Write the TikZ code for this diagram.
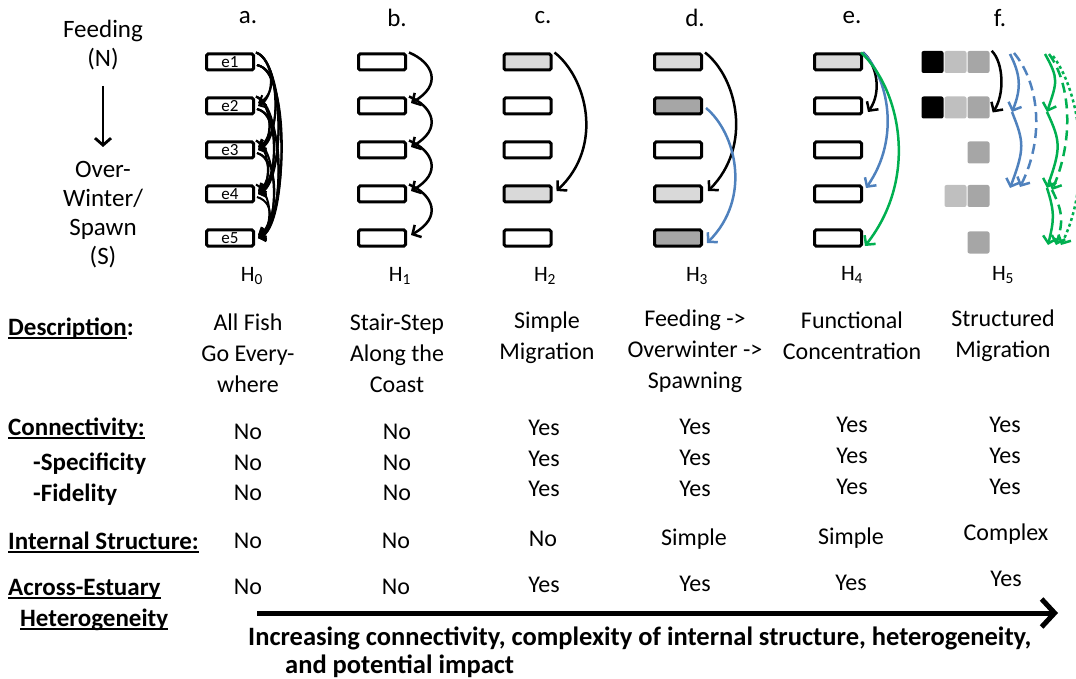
\documentclass[tikz,border=0pt]{standalone}
\usepackage{fontspec}
\setmainfont{Carlito}
\usetikzlibrary{arrows.meta}
\definecolor{ablue}{HTML}{4F81BD}
\definecolor{agreen}{HTML}{00B050}
\definecolor{lgray}{HTML}{D9D9D9}
\definecolor{dgray}{HTML}{A6A6A6}
\definecolor{sqlight}{HTML}{BFBFBF}
\definecolor{sqmid}{HTML}{A6A6A6}
\newcommand\myul[1]{\setbox0\hbox{#1}\rlap{\rule[-3.6pt]{\wd0}{1.8pt}}\box0}
\begin{document}
\begin{tikzpicture}[x=1pt,y=-1pt,
  estbox/.style={draw, line width=3pt, rounded corners=1.5pt, minimum width=47pt, minimum height=16pt, inner sep=0pt, fill=white},
  sq/.style={minimum size=22pt, inner sep=0pt, rounded corners=2pt, draw=none},
  arr/.style={line width=2.5pt, -{Straight Barb[length=6.5pt,width=14pt]}},
  tang/.style={line width=2pt, -{Straight Barb[length=5.5pt,width=11pt]}},
  lbl/.style={font=\fontsize{25}{30}\selectfont\bfseries, anchor=west, inner sep=0pt, text height=16pt, text depth=0pt},
  val/.style={font=\fontsize{24}{29}\selectfont, inner sep=0pt, text height=15.5pt, text depth=0pt},
  desc/.style={font=\fontsize{24}{31}\selectfont, align=center, inner sep=0pt},
  big/.style={font=\fontsize{25}{29}\selectfont, align=center, inner sep=0pt},
  hl/.style={font=\fontsize{22}{26}\selectfont, inner sep=0pt},
  btm/.style={font=\fontsize{26.5}{31}\selectfont\bfseries, anchor=west, inner sep=0pt, text height=17pt, text depth=0pt}
]
\useasboundingbox (0,0) rectangle (1076,679);

% left legend
\node[big] (feed) at (103,45) {Feeding\\(N)};
\node[big] (spawn) at (103,215) {Over-\\Winter/\\Spawn\\(S)};
\coordinate (la1) at (103,86);
\coordinate (la2) at (103,147);
\draw[line width=2.8pt, -{Straight Barb[length=7pt,width=16pt]}] (la1) -- (la2);

% column letters
\node[big] (la) at (248,18) {a.};
\node[big] (lb) at (397,18) {b.};
\node[big] (lc) at (543,18) {c.};
\node[big] (ld) at (695,18) {d.};
\node[big] (le) at (852,18) {e.};
\node[big] (lf) at (1000,18) {f.};

% boxes
\foreach \i/\y in {1/62,2/106,3/150,4/194,5/238}{
  \node[estbox, font=\fontsize{17}{19}\selectfont] (a\i) at (230,\y) {e\i};
  \node[estbox] (b\i) at (382,\y) {};
}
\node[estbox, fill=lgray] (c1) at (527.5,62) {};
\node[estbox] (c2) at (527.5,106) {};
\node[estbox] (c3) at (527.5,150) {};
\node[estbox, fill=lgray] (c4) at (527.5,194) {};
\node[estbox] (c5) at (527.5,238) {};
\node[estbox, fill=lgray] (d1) at (678,62) {};
\node[estbox, fill=dgray] (d2) at (678,106) {};
\node[estbox] (d3) at (678,150) {};
\node[estbox, fill=lgray] (d4) at (678,194) {};
\node[estbox, fill=dgray] (d5) at (678,238) {};
\node[estbox, fill=lgray] (e1) at (838,62) {};
\node[estbox] (e2) at (838,106) {};
\node[estbox] (e3) at (838,150) {};
\node[estbox] (e4) at (838,194) {};
\node[estbox] (e5) at (838,238) {};

% column a tangle
\foreach \i/\j/\o in {1/2/18,1/3/24,1/4/28,1/5/32,2/3/16,2/4/22,2/5/28,3/4/14,3/5/22,4/5/16}{
  \draw[tang] ([xshift=1pt]a\i.north east) .. controls +(\o,8) and +(\o,-10) .. ([xshift=3pt]a\j.east);
  \draw[tang] ([shift={(2pt,-3pt)}]a\i.east) .. controls +(\o+4,6) and +(\o-4,-6) .. ([shift={(3pt,3pt)}]a\j.east);
}

% column b stair-step
\foreach \i/\j in {1/2,2/3,3/4,4/5}{
  \draw[arr] ([xshift=2pt]b\i.north east) .. controls +(24,10) and +(32,-18) .. ([shift={(4pt,3pt)}]b\j.east);
}

% column c
\draw[arr] ([xshift=2pt]c1.north east) .. controls +(32,25) and +(48,-45) .. ([shift={(4pt,3pt)}]c4.east);

% column d
\draw[arr] ([xshift=2pt]d1.north east) .. controls +(32,25) and +(45,-45) .. ([shift={(5pt,3pt)}]d4.east);
\draw[arr, ablue] ([shift={(3pt,-2pt)}]d2.east) .. controls +(30,25) and +(45,-45) .. ([shift={(4pt,-5pt)}]d5.east);

% column e
\draw[arr] (e1.north east) .. controls +(14,12) and +(14,-20) .. ([shift={(5pt,-6pt)}]e2.east);
\draw[arr, ablue] (e1.north east) .. controls +(25,25) and +(35,-50) .. ([shift={(3pt,6pt)}]e4.east);
\draw[arr, agreen] ([xshift=-2pt]e1.north east) .. controls +(38,35) and +(55,-70) .. ([shift={(2pt,-8pt)}]e5.east);

% column f squares
\node[sq, fill=black] (f11) at (932.5,62) {};
\node[sq, fill=sqlight] (f12) at (955.5,62) {};
\node[sq, fill=sqmid] (f13) at (978.5,62) {};
\node[sq, fill=black] (f21) at (932.5,107.5) {};
\node[sq, fill=sqlight] (f22) at (955.5,107.5) {};
\node[sq, fill=sqmid] (f23) at (978.5,107.5) {};
\node[sq, fill=sqmid] (f33) at (978.5,152.5) {};
\node[sq, fill=sqlight] (f42) at (955.5,196) {};
\node[sq, fill=sqmid] (f43) at (978.5,196) {};
\node[sq, fill=sqmid] (f53) at (978.5,242.5) {};

\coordinate (fb1) at (1010,54);
\coordinate (fb2) at (1012,112);
\coordinate (fb4) at (1010,188);
\coordinate (fbd1) at (1014,53);
\coordinate (fbd4) at (1020,187);
\coordinate (fg1) at (1045,54);
\coordinate (fg2) at (1047,112);
\coordinate (fg4) at (1047,188);
\coordinate (fg5) at (1048,245);
\coordinate (fgd1) at (1049,54);
\coordinate (fgd4) at (1052,190);
\coordinate (fgd5) at (1056,245);
\coordinate (fgt1) at (1053,56);
\coordinate (fgt5) at (1061,245);

\draw[arr] ([xshift=2pt]f13.north east) .. controls +(12,12) and +(12,-18) .. ([shift={(3pt,-5pt)}]f23.east);
\draw[arr, ablue] (fb1) .. controls +(10,20) and +(10,-25) .. (fb2);
\draw[arr, ablue] (fb2) .. controls +(12,30) and +(15,-40) .. (fb4);
\draw[arr, ablue, dash pattern=on 10pt off 6pt] (fbd1) .. controls +(25,30) and +(25,-50) .. (fbd4);
\draw[arr, agreen] (fg1) .. controls +(14,25) and +(10,-30) .. (fg2);
\draw[arr, agreen] (fg2) .. controls +(14,30) and +(14,-40) .. (fg4);
\draw[arr, agreen] (fg4) .. controls +(8,25) and +(6,-25) .. (fg5);
\draw[arr, agreen, dash pattern=on 10pt off 6pt] (fgd1) .. controls +(22,30) and +(22,-50) .. (fgd4);
\draw[arr, agreen, dash pattern=on 10pt off 6pt] (fgd4) .. controls +(10,20) and +(8,-25) .. (fgd5);
\draw[arr, agreen, dash pattern=on 3pt off 3pt] (fgt1) .. controls +(30,40) and +(30,-60) .. (fgt5);

% H labels
\node[hl] (h0) at (252,276) {H\textsubscript{0}};
\node[hl] (h1) at (400,276) {H\textsubscript{1}};
\node[hl] (h2) at (545,276) {H\textsubscript{2}};
\node[hl] (h3) at (697,276) {H\textsubscript{3}};
\node[hl] (h4) at (852,275) {H\textsubscript{4}};
\node[hl] (h5) at (1003,275) {H\textsubscript{5}};

% row labels
\node[lbl] (rdesc) at (8,327) {\myul{Description}:};
\node[lbl] (rcon) at (8,427) {\myul{Connectivity:}};
\node[lbl] (rspec) at (33,462) {-Specificity};
\node[lbl] (rfid) at (33,493) {-Fidelity};
\node[lbl] (rint) at (8,541) {\myul{Internal Structure:}};
\node[lbl] (racr) at (8,587) {\myul{Across-Estuary}};
\node[lbl] (rhet) at (20,618) {\myul{Heterogeneity}};

% descriptions
\node[desc] (da) at (248,353) {All Fish\\Go Every-\\where};
\node[desc] (db) at (397,353) {Stair-Step\\Along the\\Coast};
\node[desc] (dc) at (547,337.5) {Simple\\Migration};
\node[desc] (dd) at (695,351) {Feeding ->\\Overwinter ->\\Spawning};
\node[desc] (de) at (852,335.5) {Functional\\Concentration};
\node[desc] (df) at (1003,335.5) {Structured\\Migration};

% values
\foreach \x/\a/\b/\c/\t in {248/432/463/493/No, 397/432/463/493/No, 544/428/459/489/Yes, 695/427/458/489/Yes, 852/425/456/487/Yes, 1005/425/456/487/Yes}{
  \node[val] at (\x,\a) {\t};
  \node[val] at (\x,\b) {\t};
  \node[val] at (\x,\c) {\t};
}
\node[val] (ia) at (248,541) {No};
\node[val] (ib) at (396,541) {No};
\node[val] (ic) at (543,539) {No};
\node[val] (id) at (694,538) {Simple};
\node[val] (ie) at (851,537) {Simple};
\node[val] (if) at (1006,533) {Complex};
\node[val] (xa) at (248,587) {No};
\node[val] (xb) at (396,587) {No};
\node[val] (xc) at (544,585) {Yes};
\node[val] (xd) at (695,584) {Yes};
\node[val] (xe) at (851,583) {Yes};
\node[val] (xf) at (1006,579) {Yes};

% bottom arrow
\coordinate (ba1) at (257,613);
\coordinate (ba2) at (1058,613);
\draw[line width=5pt, -{Straight Barb[length=13pt,width=28pt]}] (ba1) -- (ba2);
\node[btm] (bt1) at (248,637) {Increasing connectivity, complexity of internal structure, heterogeneity,};
\node[btm] (bt2) at (285,665) {and potential impact};
\end{tikzpicture}
\end{document}
